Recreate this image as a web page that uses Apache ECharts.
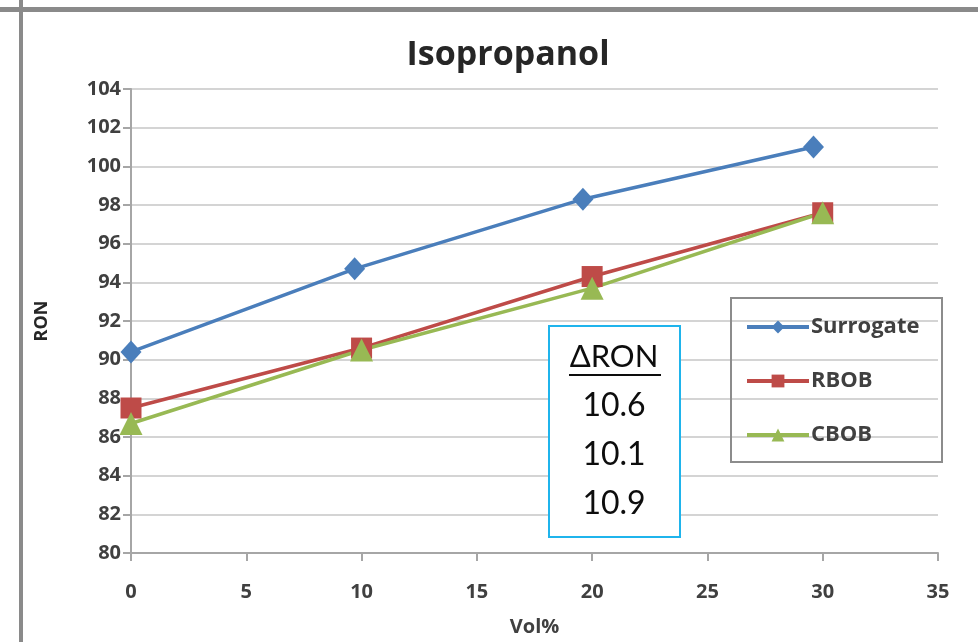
<!DOCTYPE html>
<html>
<head>
<meta charset="utf-8">
<script src="https://cdn.jsdelivr.net/npm/echarts@6/dist/echarts.min.js"></script>
<style>html,body{margin:0;padding:0;background:#fff}#c{width:978px;height:642px}</style>
</head>
<body>
<div id="c"></div>
<script>
const titleText = 'Isopropanol';
const xTicks = [0, 5, 10, 15, 20, 25, 30, 35];
const yTicks = [80, 82, 84, 86, 88, 90, 92, 94, 96, 98, 100, 102, 104];
const seriesNames = ['Surrogate', 'RBOB', 'CBOB'];
const surrogateData = [[0, 90.4], [9.7, 94.7], [19.6, 98.3], [29.6, 101.0]];
const rbobData = [[0, 87.5], [10, 90.6], [20, 94.3], [30, 97.6]];
const cbobData = [[0, 86.7], [10, 90.5], [20, 93.7], [30, 97.6]];
const deltaLabel = '\u0394RON';
const deltaValues = ['10.6', '10.1', '10.9'];

const FONT = 'Open Sans';
const FONT2 = 'Lato';
const chart = echarts.init(document.getElementById('c'), null, {renderer: 'canvas'});

function mk(name, data, color, symbol, size) {
  return {
    name, type: 'line', data, symbol, symbolSize: size,
    lineStyle: {color, width: 3.5},
    itemStyle: {color},
    animation: false
  };
}

const option = {
  animation: false,
  backgroundColor: '#ffffff',
  title: {
    text: titleText, left: 503, top: 33, textAlign: 'center',
    textStyle: {fontFamily: FONT, fontWeight: 'bold', fontSize: 34, color: '#262626'}
  },
  grid: {left: 131, right: 40, top: 89, bottom: 89, containLabel: false},
  xAxis: {
    type: 'value', min: 0, max: 35, interval: 5,
    name: 'Vol%', nameLocation: 'middle', nameGap: 64,
    nameTextStyle: {fontFamily: FONT, fontWeight: 'bold', fontSize: 20, color: '#404040'},
    axisLine: {show: true, lineStyle: {color: '#a6a6a6', width: 2}},
    axisTick: {show: true, length: 8, lineStyle: {color: '#a6a6a6', width: 2}},
    axisLabel: {fontFamily: FONT, fontWeight: 'bold', fontSize: 20, color: '#404040', margin: 29,
      formatter: v => xTicks.includes(v) ? String(v) : ''},
    splitLine: {show: false}
  },
  yAxis: {
    type: 'value', min: 80, max: 104, interval: 2,
    name: 'RON', nameLocation: 'middle', nameGap: 80, nameRotate: 90,
    nameTextStyle: {fontFamily: FONT, fontWeight: 'bold', fontSize: 18, color: '#262626'},
    axisLine: {show: true, lineStyle: {color: '#a6a6a6', width: 2}},
    axisTick: {show: true, length: 8, lineStyle: {color: '#a6a6a6', width: 2}},
    axisLabel: {fontFamily: FONT, fontWeight: 'bold', fontSize: 20, color: '#404040', margin: 10,
      formatter: v => yTicks.includes(v) ? String(v) : ''},
    splitLine: {show: true, lineStyle: {color: '#d4d4d4', width: 2}}
  },
  legend: {
    orient: 'vertical', left: 745, top: 316, itemWidth: 62, itemHeight: 16, itemGap: 32,
    padding: 0, data: seriesNames,
    lineStyle: {width: 4},
    textStyle: {fontFamily: FONT, fontWeight: 'bold', fontSize: 22, color: '#404040', padding: [0,0,0,-3]}
  },
  series: [
    mk(seriesNames[0], surrogateData, '#4a7ebb', 'diamond', [21, 23]),
    mk(seriesNames[1], rbobData, '#be4b48', 'rect', 21),
    mk(seriesNames[2], cbobData, '#98b954', 'triangle', 23)
  ],
  graphic: [
    {type: 'rect', shape: {x: 0, y: 7, width: 978, height: 5}, style: {fill: '#8a8a8a'}, z: 10},
    {type: 'rect', shape: {x: 19, y: 0, width: 4, height: 642}, style: {fill: '#8a8a8a'}, z: 10},
    {type: 'rect', shape: {x: 731, y: 298, width: 211, height: 164}, style: {fill: 'rgba(0,0,0,0)', stroke: '#8c8c8c', lineWidth: 2}, z: 10},
    {type: 'rect', shape: {x: 549, y: 326, width: 131, height: 211}, style: {fill: '#ffffff', stroke: '#1fb4ec', lineWidth: 2}, z: 10},
    {type: 'text', x: 614, y: 357, style: {text: deltaLabel, font: '31px ' + FONT2, fill: '#0d0d0d', align: 'center', verticalAlign: 'middle'}, z: 11},
    {type: 'line', shape: {x1: 569, y1: 375, x2: 661, y2: 375}, style: {stroke: '#0d0d0d', lineWidth: 2}, z: 11},
    {type: 'text', x: 614, y: 406, style: {text: deltaValues[0], font: '32px ' + FONT2, fill: '#0d0d0d', align: 'center', verticalAlign: 'middle'}, z: 11},
    {type: 'text', x: 614, y: 455, style: {text: deltaValues[1], font: '32px ' + FONT2, fill: '#0d0d0d', align: 'center', verticalAlign: 'middle'}, z: 11},
    {type: 'text', x: 614, y: 504, style: {text: deltaValues[2], font: '32px ' + FONT2, fill: '#0d0d0d', align: 'center', verticalAlign: 'middle'}, z: 11}
  ]
};
chart.setOption(option);
</script>
</body>
</html>
